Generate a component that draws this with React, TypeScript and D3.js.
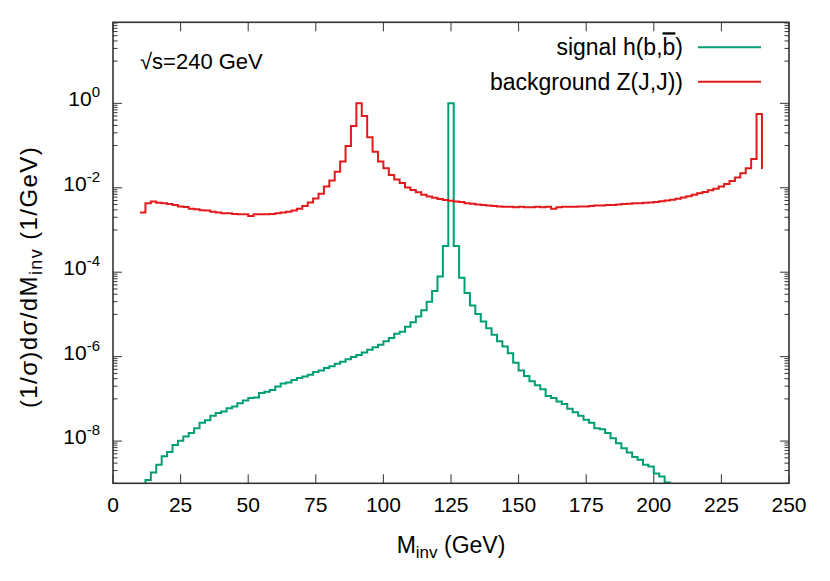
import React, { useEffect, useRef } from "react";
import * as d3 from "d3";

// lower bin edges (GeV), 2 GeV bins
const binEdges = [
  10, 12, 14, 16, 18, 20, 22, 24, 26, 28, 30, 32, 34, 36, 38, 40, 42, 44, 46, 48,
  50, 52, 54, 56, 58, 60, 62, 64, 66, 68, 70, 72, 74, 76, 78, 80, 82, 84, 86, 88,
  90, 92, 94, 96, 98, 100, 102, 104, 106, 108, 110, 112, 114, 116, 118, 120, 122, 124, 126, 128,
  130, 132, 134, 136, 138, 140, 142, 144, 146, 148, 150, 152, 154, 156, 158, 160, 162, 164, 166, 168,
  170, 172, 174, 176, 178, 180, 182, 184, 186, 188, 190, 192, 194, 196, 198, 200, 202, 204, 206, 208,
  210, 212, 214, 216, 218, 220, 222, 224, 226, 228, 230, 232, 234, 236, 238, 240,
];

// background Z(J,J)
const backgroundValues = [
  2.6e-3, 4.3e-3, 4.7e-3, 4.4e-3, 4.3e-3, 4.1e-3, 3.9e-3, 3.6e-3, 3.5e-3, 3.2e-3,
  3.1e-3, 2.95e-3, 2.9e-3, 2.7e-3, 2.6e-3, 2.5e-3, 2.5e-3, 2.4e-3, 2.35e-3, 2.35e-3,
  2.15e-3, 2.35e-3, 2.35e-3, 2.35e-3, 2.4e-3, 2.5e-3, 2.6e-3, 2.7e-3, 2.9e-3, 3.2e-3,
  3.7e-3, 4.5e-3, 5.6e-3, 7.2e-3, 1.07e-2, 1.48e-2, 2.4e-2, 4.2e-2, 9.8e-2, 0.29,
  1.0, 0.5, 0.158, 7.1e-2, 4.2e-2, 2.9e-2, 2.0e-2, 1.58e-2, 1.29e-2, 1.02e-2,
  8.9e-3, 7.8e-3, 6.8e-3, 6.2e-3, 5.8e-3, 5.4e-3, 5.1e-3, 4.9e-3, 4.7e-3, 4.6e-3,
  4.3e-3, 4.2e-3, 4.0e-3, 3.9e-3, 3.8e-3, 3.7e-3, 3.6e-3, 3.55e-3, 3.55e-3, 3.45e-3,
  3.55e-3, 3.45e-3, 3.45e-3, 3.55e-3, 3.45e-3, 3.55e-3, 3.2e-3, 3.45e-3, 3.55e-3, 3.55e-3,
  3.55e-3, 3.6e-3, 3.6e-3, 3.7e-3, 3.8e-3, 3.8e-3, 3.9e-3, 3.9e-3, 4.0e-3, 4.1e-3,
  4.2e-3, 4.3e-3, 4.3e-3, 4.4e-3, 4.5e-3, 4.6e-3, 4.8e-3, 5.0e-3, 5.2e-3, 5.5e-3,
  5.9e-3, 6.3e-3, 6.8e-3, 7.4e-3, 7.9e-3, 8.7e-3, 9.5e-3, 1.07e-2, 1.23e-2, 1.45e-2,
  1.74e-2, 2.2e-2, 2.9e-2, 4.8e-2, 0.56, 2.8e-2,
];

// signal h(b,bbar)
const signalValues = [
  6e-10, 1.2e-9, 1.8e-9, 2.75e-9, 4.4e-9, 5.5e-9, 8.1e-9, 1.02e-8, 1.29e-8, 1.55e-8,
  2.0e-8, 2.7e-8, 3.1e-8, 4.0e-8, 4.6e-8, 5.0e-8, 6.0e-8, 6.6e-8, 7.9e-8, 9.1e-8,
  1.05e-7, 1.07e-7, 1.38e-7, 1.48e-7, 1.62e-7, 1.95e-7, 2.3e-7, 2.45e-7, 2.8e-7, 3.1e-7,
  3.4e-7, 3.7e-7, 4.3e-7, 4.7e-7, 5.4e-7, 5.9e-7, 6.8e-7, 7.6e-7, 8.7e-7, 9.8e-7,
  1.1e-6, 1.26e-6, 1.45e-6, 1.66e-6, 1.9e-6, 2.3e-6, 2.75e-6, 3.5e-6, 3.9e-6, 5.1e-6,
  6.5e-6, 8.9e-6, 1.26e-5, 2.0e-5, 3.6e-5, 7.9e-5, 4.2e-4, 1.0, 4.2e-4, 7.4e-5,
  3.2e-5, 1.62e-5, 1.02e-5, 6.8e-6, 4.7e-6, 3.3e-6, 2.3e-6, 1.74e-6, 1.2e-6, 7.2e-7,
  4.7e-7, 3.5e-7, 2.6e-7, 2.1e-7, 1.7e-7, 1.17e-7, 1.05e-7, 8.7e-8, 7.6e-8, 5.8e-8,
  4.8e-8, 4.0e-8, 3.2e-8, 2.7e-8, 2.0e-8, 1.9e-8, 1.55e-8, 1.17e-8, 8.9e-9, 6.8e-9,
  5.4e-9, 4.2e-9, 3.6e-9, 2.75e-9, 2.5e-9, 1.7e-9, 1.45e-9, 1.05e-9, 7e-10, 5e-10,
];

const xTicks = [0, 25, 50, 75, 100, 125, 150, 175, 200, 225, 250];
const yMajorExponents = [-8, -6, -4, -2, 0];

const seriesInfo = [
  { label: "signal h(b,", bar: "b", tail: ")", color: "#009e73" },
  { label: "background Z(J,J))", bar: "", tail: "", color: "#e31a1c" },
];

export default function App() {
  const svgRef = useRef<SVGSVGElement>(null);

  useEffect(() => {
    const width = 830;
    const height = 581;
    const left = 113;
    const right = 789;
    const top = 22.3;
    const bottom = 483.3;
    const font = "'Liberation Sans', Arial, Helvetica, sans-serif";

    const svg = d3.select(svgRef.current);
    svg.selectAll("*").remove();
    svg.attr("width", width).attr("height", height);

    const x = d3.scaleLinear().domain([0, 250]).range([left, right]);
    const y = d3.scaleLog().domain([1e-9, 83]).range([bottom, top]);

    svg
      .append("defs")
      .append("clipPath")
      .attr("id", "plotclip")
      .append("rect")
      .attr("x", left)
      .attr("y", top)
      .attr("width", right - left)
      .attr("height", bottom - top);

    // ticks (inward, mirrored)
    const ticks = svg.append("g").attr("stroke", "#333").attr("stroke-width", 1);
    xTicks.forEach((t) => {
      ticks.append("line").attr("x1", x(t)).attr("x2", x(t)).attr("y1", bottom).attr("y2", bottom - 9);
      ticks.append("line").attr("x1", x(t)).attr("x2", x(t)).attr("y1", top).attr("y2", top + 9);
    });
    const minorVals: number[] = [];
    [-9, -7, -5, -3, -1, 1].forEach((e) => {
      for (let k = 1; k <= 9; k++) minorVals.push(k * Math.pow(10, e));
    });
    minorVals
      .filter((v) => v >= 1e-9 && v <= 83)
      .forEach((v) => {
        ticks.append("line").attr("x1", left).attr("x2", left + 4.5).attr("y1", y(v)).attr("y2", y(v));
        ticks.append("line").attr("x1", right).attr("x2", right - 4.5).attr("y1", y(v)).attr("y2", y(v));
      });
    yMajorExponents.forEach((e) => {
      const v = Math.pow(10, e);
      ticks.append("line").attr("x1", left).attr("x2", left + 9).attr("y1", y(v)).attr("y2", y(v));
      ticks.append("line").attr("x1", right).attr("x2", right - 9).attr("y1", y(v)).attr("y2", y(v));
    });

    // data
    const line = d3
      .line<[number, number]>()
      .curve(d3.curveStepAfter)
      .x((d) => x(d[0]))
      .y((d) => y(d[1]));

    const plot = svg.append("g").attr("clip-path", "url(#plotclip)");
    plot
      .append("path")
      .attr("d", line(signalValues.map((v, i) => [binEdges[i], v])))
      .attr("fill", "none")
      .attr("stroke", seriesInfo[0].color)
      .attr("stroke-width", 2);
    plot
      .append("path")
      .attr("d", line(backgroundValues.map((v, i) => [binEdges[i], v])))
      .attr("fill", "none")
      .attr("stroke", seriesInfo[1].color)
      .attr("stroke-width", 2);

    // frame
    svg
      .append("rect")
      .attr("x", left)
      .attr("y", top)
      .attr("width", right - left)
      .attr("height", bottom - top)
      .attr("fill", "none")
      .attr("stroke", "#333")
      .attr("stroke-width", 1.6);

    // x tick labels
    svg
      .append("g")
      .selectAll("text")
      .data(xTicks)
      .join("text")
      .attr("x", (d) => x(d))
      .attr("y", 512)
      .attr("text-anchor", "middle")
      .style("font-family", font)
      .style("font-size", "21px")
      .text((d) => d);

    // y tick labels
    yMajorExponents.forEach((e) => {
      const t = svg
        .append("text")
        .attr("x", 100)
        .attr("y", y(Math.pow(10, e)) + 3)
        .attr("text-anchor", "end")
        .style("font-family", font)
        .style("font-size", "21px");
      t.append("tspan").text("10");
      t.append("tspan").attr("dy", -9).style("font-size", "15px").text(e);
    });

    // axis titles
    const xt = svg
      .append("text")
      .attr("x", 451)
      .attr("y", 553)
      .attr("text-anchor", "middle")
      .style("font-family", font)
      .style("font-size", "23px");
    xt.append("tspan").text("M");
    xt.append("tspan").attr("dy", 5).style("font-size", "17px").text("inv");
    xt.append("tspan").attr("dy", -5).text(" (GeV)");

    const yt = svg
      .append("text")
      .attr("transform", "translate(37,277) rotate(-90)")
      .attr("text-anchor", "middle")
      .style("font-family", font)
      .style("font-size", "24px")
      .style("letter-spacing", "1.4px");
    yt.append("tspan").text("(1/σ)dσ/dM");
    yt.append("tspan").attr("dy", 5).style("font-size", "18px").text("inv");
    yt.append("tspan").attr("dy", -5).text(" (1/GeV)");

    // annotation
    svg
      .append("text")
      .attr("x", 140)
      .attr("y", 69)
      .style("font-family", font)
      .style("font-size", "22px")
      .text("√s=240 GeV");

    // legend
    const legendY = [47.3, 81.7];
    seriesInfo.forEach((s, i) => {
      const t = svg
        .append("text")
        .attr("x", 683)
        .attr("y", legendY[i] + 8)
        .attr("text-anchor", "end")
        .style("font-family", font)
        .style("font-size", "23px");
      t.append("tspan").text(s.label);
      if (s.bar) {
        t.append("tspan").style("text-decoration", "overline").text(s.bar);
        t.append("tspan").text(s.tail);
      }
      svg
        .append("line")
        .attr("x1", 698)
        .attr("x2", 761)
        .attr("y1", legendY[i])
        .attr("y2", legendY[i])
        .attr("stroke", s.color)
        .attr("stroke-width", 2);
    });
  }, []);

  return (
    <svg
      ref={svgRef}
      style={{ position: "absolute", left: 0, top: 0, background: "#fff" }}
    />
  );
}
